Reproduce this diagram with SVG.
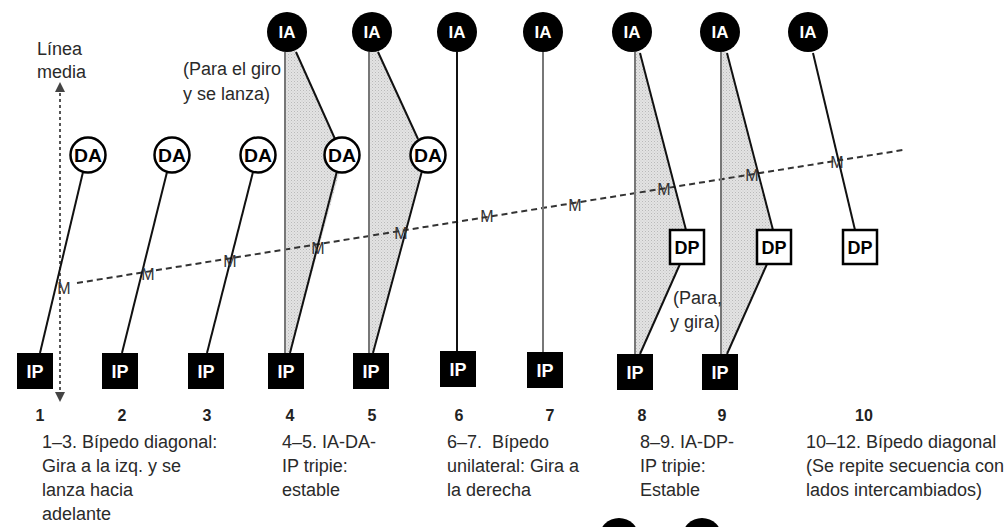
<svg xmlns="http://www.w3.org/2000/svg" width="1008" height="527" viewBox="0 0 1008 527">
  <defs>
    <!-- stippled grey used for the support-triangle areas -->
    <pattern id="stipple" width="3" height="3" patternUnits="userSpaceOnUse">
      <rect width="3" height="3" fill="#e3e3e3"/>
      <rect width="1" height="1" fill="#b9b9b9"/>
      <rect x="1.5" y="1.5" width="1" height="1" fill="#c9c9c9"/>
    </pattern>
    <marker id="tip" viewBox="0 0 6 6" refX="3" refY="3" markerWidth="5" markerHeight="5" orient="auto-start-reverse">
      <path d="M0,0 L6,3 L0,6 z" fill="#444"/>
    </marker>
  </defs>
  <style>
    text{font-family:"Liberation Sans",Arial,sans-serif}
    .cap{font-size:18px;fill:#2a2a2a}
    .num{font-size:16px;font-weight:bold;fill:#222;text-anchor:middle}
    .lbl{font-weight:bold;text-anchor:middle}
    .ia circle{fill:#000}
    .ia text{fill:#fff;font-size:17px}
    .da circle{fill:#fff;stroke:#000;stroke-width:2.5}
    .da text{fill:#000;font-size:19px}
    .ip rect{fill:#000}
    .ip text{fill:#fff;font-size:18px}
    .dp rect{fill:#fff;stroke:#000;stroke-width:2.5}
    .dp text{fill:#000;font-size:19px}
    .leg{stroke:#111;stroke-width:2;fill:none}
    .post{stroke:#777;stroke-width:2;fill:none}
    .shade{fill:url(#stipple);stroke:none}
    .m{font-size:16px;fill:#333;text-anchor:middle}
  </style>

  <rect width="1008" height="527" fill="#fff"/>

  <!-- support areas -->
  <g id="support-areas">
    <polygon class="shade" points="285,50 296,50 336,140 340,170 290,354 285,354"/>
    <polygon class="shade" points="369,50 378,50 418,138 422,170 373,354 369,354"/>
    <polygon class="shade" points="635,50 640,52 686,232 680,266 640,354 635,354"/>
    <polygon class="shade" points="721,50 727,52 773,232 767,266 727,354 721,354"/>
  </g>

  <!-- midline and centre-of-mass path -->
  <g id="guides">
    <line x1="60" y1="87" x2="60" y2="397" stroke="#555" stroke-width="2" stroke-dasharray="3 3" marker-start="url(#tip)" marker-end="url(#tip)"/>
    <line x1="77" y1="283" x2="903" y2="150" stroke="#333" stroke-width="2" stroke-dasharray="6 4"/>
  </g>

  <!-- limb connectors -->
  <g id="connectors">
    <line class="leg" x1="83" y1="172" x2="40" y2="353"/>
    <line class="leg" x1="167" y1="172" x2="122" y2="353"/>
    <line class="leg" x1="253" y1="172" x2="207" y2="353"/>

    <line class="post" x1="285" y1="52" x2="285" y2="353"/>
    <line class="leg" x1="296" y1="52" x2="335" y2="139"/>
    <line class="leg" x1="337" y1="171" x2="290" y2="353"/>

    <line class="post" x1="369" y1="52" x2="369" y2="353"/>
    <line class="leg" x1="378" y1="52" x2="418" y2="139"/>
    <line class="leg" x1="422" y1="171" x2="373" y2="353"/>

    <line class="leg" x1="457" y1="52" x2="457" y2="351"/>
    <line class="post" x1="543" y1="52" x2="543" y2="352"/>

    <line class="post" x1="635" y1="52" x2="635" y2="354"/>
    <line class="leg" x1="640" y1="53" x2="686" y2="230"/>
    <line class="leg" x1="680" y1="264" x2="640" y2="354"/>

    <line class="post" x1="721" y1="52" x2="721" y2="354"/>
    <line class="leg" x1="727" y1="53" x2="773" y2="230"/>
    <line class="leg" x1="767" y1="264" x2="727" y2="354"/>

    <line class="leg" x1="813" y1="53" x2="855" y2="230"/>
  </g>

  <!-- centre-of-mass marks -->
  <g id="m-marks">
    <text class="m" x="64" y="294">M</text>
    <text class="m" x="148" y="280">M</text>
    <text class="m" x="230" y="267">M</text>
    <text class="m" x="318" y="254">M</text>
    <text class="m" x="401" y="239">M</text>
    <text class="m" x="487" y="222">M</text>
    <text class="m" x="575" y="211">M</text>
    <text class="m" x="664" y="195">M</text>
    <text class="m" x="752" y="181">M</text>
    <text class="m" x="837" y="168">M</text>
  </g>

  <!-- IA nodes -->
  <g id="ia-4" class="ia lbl"><circle cx="287" cy="32" r="20"/><text x="287" y="38">IA</text></g>
  <g id="ia-5" class="ia lbl"><circle cx="372" cy="32" r="20"/><text x="372" y="38">IA</text></g>
  <g id="ia-6" class="ia lbl"><circle cx="457" cy="32" r="20"/><text x="457" y="38">IA</text></g>
  <g id="ia-7" class="ia lbl"><circle cx="543" cy="32" r="20"/><text x="543" y="38">IA</text></g>
  <g id="ia-8" class="ia lbl"><circle cx="632" cy="32" r="20"/><text x="632" y="38">IA</text></g>
  <g id="ia-9" class="ia lbl"><circle cx="720" cy="32" r="20"/><text x="720" y="38">IA</text></g>
  <g id="ia-10" class="ia lbl"><circle cx="808" cy="32" r="20"/><text x="808" y="38">IA</text></g>

  <!-- DA nodes -->
  <g id="da-1" class="da lbl"><circle cx="88" cy="155" r="17.5"/><text x="88" y="162" textLength="28" lengthAdjust="spacingAndGlyphs">DA</text></g>
  <g id="da-2" class="da lbl"><circle cx="172" cy="155" r="17.5"/><text x="172" y="162" textLength="28" lengthAdjust="spacingAndGlyphs">DA</text></g>
  <g id="da-3" class="da lbl"><circle cx="258" cy="155" r="17.5"/><text x="258" y="162" textLength="28" lengthAdjust="spacingAndGlyphs">DA</text></g>
  <g id="da-4" class="da lbl"><circle cx="342" cy="155" r="17.5"/><text x="342" y="162" textLength="28" lengthAdjust="spacingAndGlyphs">DA</text></g>
  <g id="da-5" class="da lbl"><circle cx="428" cy="155" r="17.5"/><text x="428" y="162" textLength="28" lengthAdjust="spacingAndGlyphs">DA</text></g>

  <!-- DP nodes -->
  <g id="dp-8" class="dp lbl"><rect x="670" y="230" width="34" height="34"/><text x="687" y="254" textLength="25" lengthAdjust="spacingAndGlyphs">DP</text></g>
  <g id="dp-9" class="dp lbl"><rect x="757" y="230" width="34" height="34"/><text x="774" y="254" textLength="25" lengthAdjust="spacingAndGlyphs">DP</text></g>
  <g id="dp-10" class="dp lbl"><rect x="843" y="230" width="34" height="34"/><text x="860" y="254" textLength="25" lengthAdjust="spacingAndGlyphs">DP</text></g>

  <!-- IP nodes -->
  <g id="ip-1" class="ip lbl"><rect x="17" y="353" width="36" height="36"/><text x="35" y="378">IP</text></g>
  <g id="ip-2" class="ip lbl"><rect x="102" y="353" width="36" height="36"/><text x="120" y="378">IP</text></g>
  <g id="ip-3" class="ip lbl"><rect x="188" y="353" width="36" height="36"/><text x="206" y="378">IP</text></g>
  <g id="ip-4" class="ip lbl"><rect x="268" y="353" width="36" height="36"/><text x="286" y="378">IP</text></g>
  <g id="ip-5" class="ip lbl"><rect x="353" y="353" width="36" height="36"/><text x="371" y="378">IP</text></g>
  <g id="ip-6" class="ip lbl"><rect x="440" y="351" width="36" height="36"/><text x="458" y="376">IP</text></g>
  <g id="ip-7" class="ip lbl"><rect x="527" y="352" width="36" height="36"/><text x="545" y="377">IP</text></g>
  <g id="ip-8" class="ip lbl"><rect x="617" y="354" width="36" height="36"/><text x="635" y="379">IP</text></g>
  <g id="ip-9" class="ip lbl"><rect x="702" y="354" width="36" height="36"/><text x="720" y="379">IP</text></g>

  <!-- next row, cut by the bottom edge -->
  <g id="next-row">
    <circle cx="619" cy="538" r="20" fill="#000"/>
    <circle cx="702" cy="538" r="20" fill="#000"/>
  </g>

  <!-- annotations -->
  <g id="annotations" class="cap">
    <text x="37" y="55">Línea</text>
    <text x="37" y="78">media</text>
    <text x="183" y="75">(Para el giro</text>
    <text x="183" y="100">y se lanza)</text>
    <text x="673" y="304">(Para,</text>
    <text x="670" y="328">y gira)</text>
  </g>

  <!-- step numbers -->
  <g id="step-numbers" class="num">
    <text x="40" y="421">1</text>
    <text x="122" y="421">2</text>
    <text x="207" y="421">3</text>
    <text x="290" y="421">4</text>
    <text x="372" y="421">5</text>
    <text x="459" y="421">6</text>
    <text x="550" y="421">7</text>
    <text x="642" y="421">8</text>
    <text x="722" y="421">9</text>
    <text x="864" y="421">10</text>
  </g>

  <!-- phase captions -->
  <g id="captions" class="cap">
    <text x="42" y="448">1–3. Bípedo diagonal:</text>
    <text x="42" y="472">Gira a la izq. y se</text>
    <text x="42" y="496">lanza hacia</text>
    <text x="42" y="520">adelante</text>

    <text x="282" y="448">4–5. IA-DA-</text>
    <text x="282" y="472">IP tripie:</text>
    <text x="282" y="496">estable</text>

    <text x="447" y="448">6–7.<tspan x="492">Bípedo</tspan></text>
    <text x="447" y="472">unilateral: Gira a</text>
    <text x="447" y="496">la derecha</text>

    <text x="640" y="448">8–9. IA-DP-</text>
    <text x="640" y="472">IP tripie:</text>
    <text x="640" y="496">Estable</text>

    <text x="806" y="448">10–12. Bípedo diagonal</text>
    <text x="806" y="472">(Se repite secuencia con</text>
    <text x="806" y="496">lados intercambiados)</text>
  </g>
</svg>
